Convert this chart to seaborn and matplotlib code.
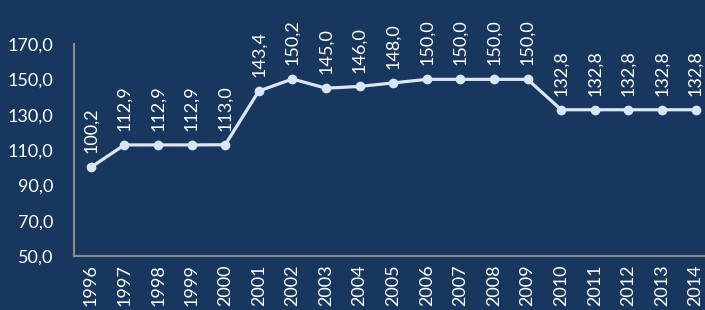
import seaborn as sns
import matplotlib.pyplot as plt
import pandas as pd

years = ["1996", "1997", "1998", "1999", "2000", "2001", "2002", "2003", "2004", "2005",
         "2006", "2007", "2008", "2009", "2010", "2011", "2012", "2013", "2014"]
values = [100.2, 112.9, 112.9, 112.9, 113.0, 143.4, 150.2, 145.0, 146.0, 148.0,
          150.0, 150.0, 150.0, 150.0, 132.8, 132.8, 132.8, 132.8, 132.8]
y_ticks = [50, 70, 90, 110, 130, 150, 170]

bg = "#17375e"
fg = "#dce6f2"

df = pd.DataFrame({"year": years, "value": values})
df["pos"] = range(len(df))

plt.rcParams["font.family"] = ["Lato", "DejaVu Sans"]
fig = plt.figure(figsize=(7.05, 3.10), dpi=100, facecolor=bg)
ax = fig.add_axes([0.105, 0.174, 0.895, 0.684])
ax.set_facecolor(bg)

sns.lineplot(data=df, x="pos", y="value", ax=ax, color=fg, linewidth=2.3,
             marker="o", markersize=7, markeredgewidth=0)

for x, v in zip(df["pos"], df["value"]):
    ax.annotate(f"{v:.1f}".replace(".", ","), (x, v), xytext=(0, 10),
                textcoords="offset points", rotation=90, ha="center", va="bottom",
                color="white", fontsize=13)

ax.set_xlim(-0.5, 18.28)
ax.set_ylim(50, 170)
ax.set_yticks(y_ticks)
ax.set_yticklabels([f"{t:.1f}".replace(".", ",") for t in y_ticks])
ax.set_xticks(df["pos"])
ax.set_xticklabels(years, rotation=90, va="top")
ax.tick_params(axis="both", length=0, colors="white", labelsize=13)
ax.tick_params(axis="y", pad=15)
ax.tick_params(axis="x", pad=6)
ax.set_xlabel("")
ax.set_ylabel("")
for s in ["top", "right"]:
    ax.spines[s].set_visible(False)
for s in ["left", "bottom"]:
    ax.spines[s].set_color("#8c8c8c")
    ax.spines[s].set_linewidth(1.5)

fig.savefig("out.png", dpi=100, facecolor=bg)
